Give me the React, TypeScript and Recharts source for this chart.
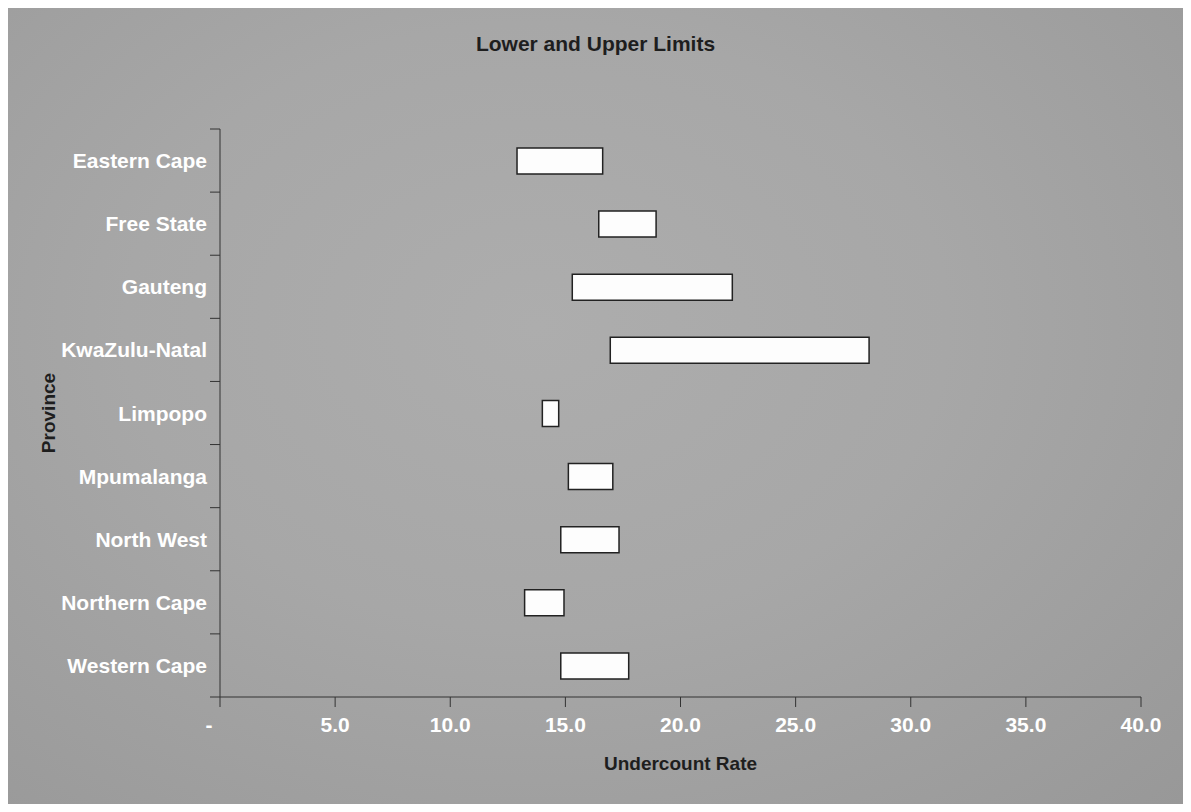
import { BarChart, Bar, XAxis, YAxis, Label } from 'recharts'

const provinces = [
  'Eastern Cape',
  'Free State',
  'Gauteng',
  'KwaZulu-Natal',
  'Limpopo',
  'Mpumalanga',
  'North West',
  'Northern Cape',
  'Western Cape',
]
const lowerLimits = [12.9, 16.45, 15.3, 16.95, 14.0, 15.13, 14.8, 13.23, 14.8]
const upperLimits = [16.62, 18.94, 22.25, 28.19, 14.71, 17.06, 17.33, 14.94, 17.75]
const rateTicks = [0, 5, 10, 15, 20, 25, 30, 35, 40]

const data = provinces.map((name, i) => ({ name, low: lowerLimits[i], high: upperLimits[i] }))

const FONT = '"Liberation Sans", Arial, sans-serif'
const AXIS = '#333'
const TICK_LEN = 10
const TICK_GAP = 3
const W = 1175
const H = 796
const MARGIN = { top: 121, right: 42, bottom: 0, left: 0 }
const Y_WIDTH = 212
const X_HEIGHT = 107

// category labels, with the tick marks drawn on the band edges
function ProvinceTick(props: any) {
  const { x, y, payload, index } = props
  const plotH = H - MARGIN.top - MARGIN.bottom - X_HEIGHT
  const half = payload?.offset || plotH / provinces.length / 2
  const axisX = x + TICK_GAP + TICK_LEN
  return (
    <g>
      <line x1={axisX - TICK_LEN} x2={axisX} y1={y - half} y2={y - half} stroke={AXIS} />
      {index === provinces.length - 1 && (
        <line x1={axisX - TICK_LEN} x2={axisX} y1={y + half} y2={y + half} stroke={AXIS} />
      )}
      <text
        x={x}
        y={y}
        dy="0.36em"
        textAnchor="end"
        fill="#fff"
        fontFamily={FONT}
        fontWeight="bold"
        fontSize={21}
      >
        {payload.value}
      </text>
    </g>
  )
}

function RateTick(props: any) {
  const { x, y, payload } = props
  const zero = payload.value === 0
  return (
    <text
      x={x + (zero ? -11 : 0)}
      y={y}
      dy="0.71em"
      textAnchor="middle"
      fill="#fff"
      fontFamily={FONT}
      fontWeight="bold"
      fontSize={21}
    >
      {zero ? '-' : payload.value.toFixed(1)}
    </text>
  )
}

export default function App() {
  return (
    <div
      style={{
        position: 'relative',
        width: W,
        height: H,
        background: 'radial-gradient(ellipse at 45% 40%, #adadad 0%, #a7a7a7 45%, #989898 100%)',
        fontFamily: FONT,
      }}
    >
      <div
        style={{
          position: 'absolute',
          top: 25,
          left: 0,
          width: W,
          textAlign: 'center',
          fontSize: 21,
          lineHeight: '21px',
          fontWeight: 'bold',
          color: '#1e1e1e',
        }}
      >
        Lower and Upper Limits
      </div>
      <BarChart width={W} height={H} data={data} layout="vertical" margin={MARGIN}>
        <XAxis
          type="number"
          domain={[0, 40]}
          ticks={rateTicks}
          interval={0}
          height={X_HEIGHT}
          tickSize={TICK_LEN}
          tickMargin={10}
          axisLine={{ stroke: AXIS }}
          tickLine={{ stroke: AXIS }}
          tick={<RateTick />}
        >
          <Label
            value="Undercount Rate"
            position="insideBottom"
            offset={34}
            fill="#1e1e1e"
            fontFamily={FONT}
            fontWeight="bold"
            fontSize={19}
          />
        </XAxis>
        <YAxis
          type="category"
          dataKey="name"
          width={Y_WIDTH}
          interval={0}
          tickSize={TICK_LEN}
          tickMargin={TICK_GAP}
          axisLine={{ stroke: AXIS }}
          tickLine={false}
          tick={<ProvinceTick />}
        >
          <Label
            value="Province"
            angle={-90}
            position="insideLeft"
            offset={40}
            fill="#1e1e1e"
            fontFamily={FONT}
            fontWeight="bold"
            fontSize={19}
            style={{ textAnchor: 'middle' }}
          />
        </YAxis>
        <Bar
          dataKey={(d: any) => [d.low, d.high]}
          barSize={26}
          fill="#fdfdfd"
          stroke="#222"
          strokeWidth={1.5}
          isAnimationActive={false}
        />
      </BarChart>
    </div>
  )
}
